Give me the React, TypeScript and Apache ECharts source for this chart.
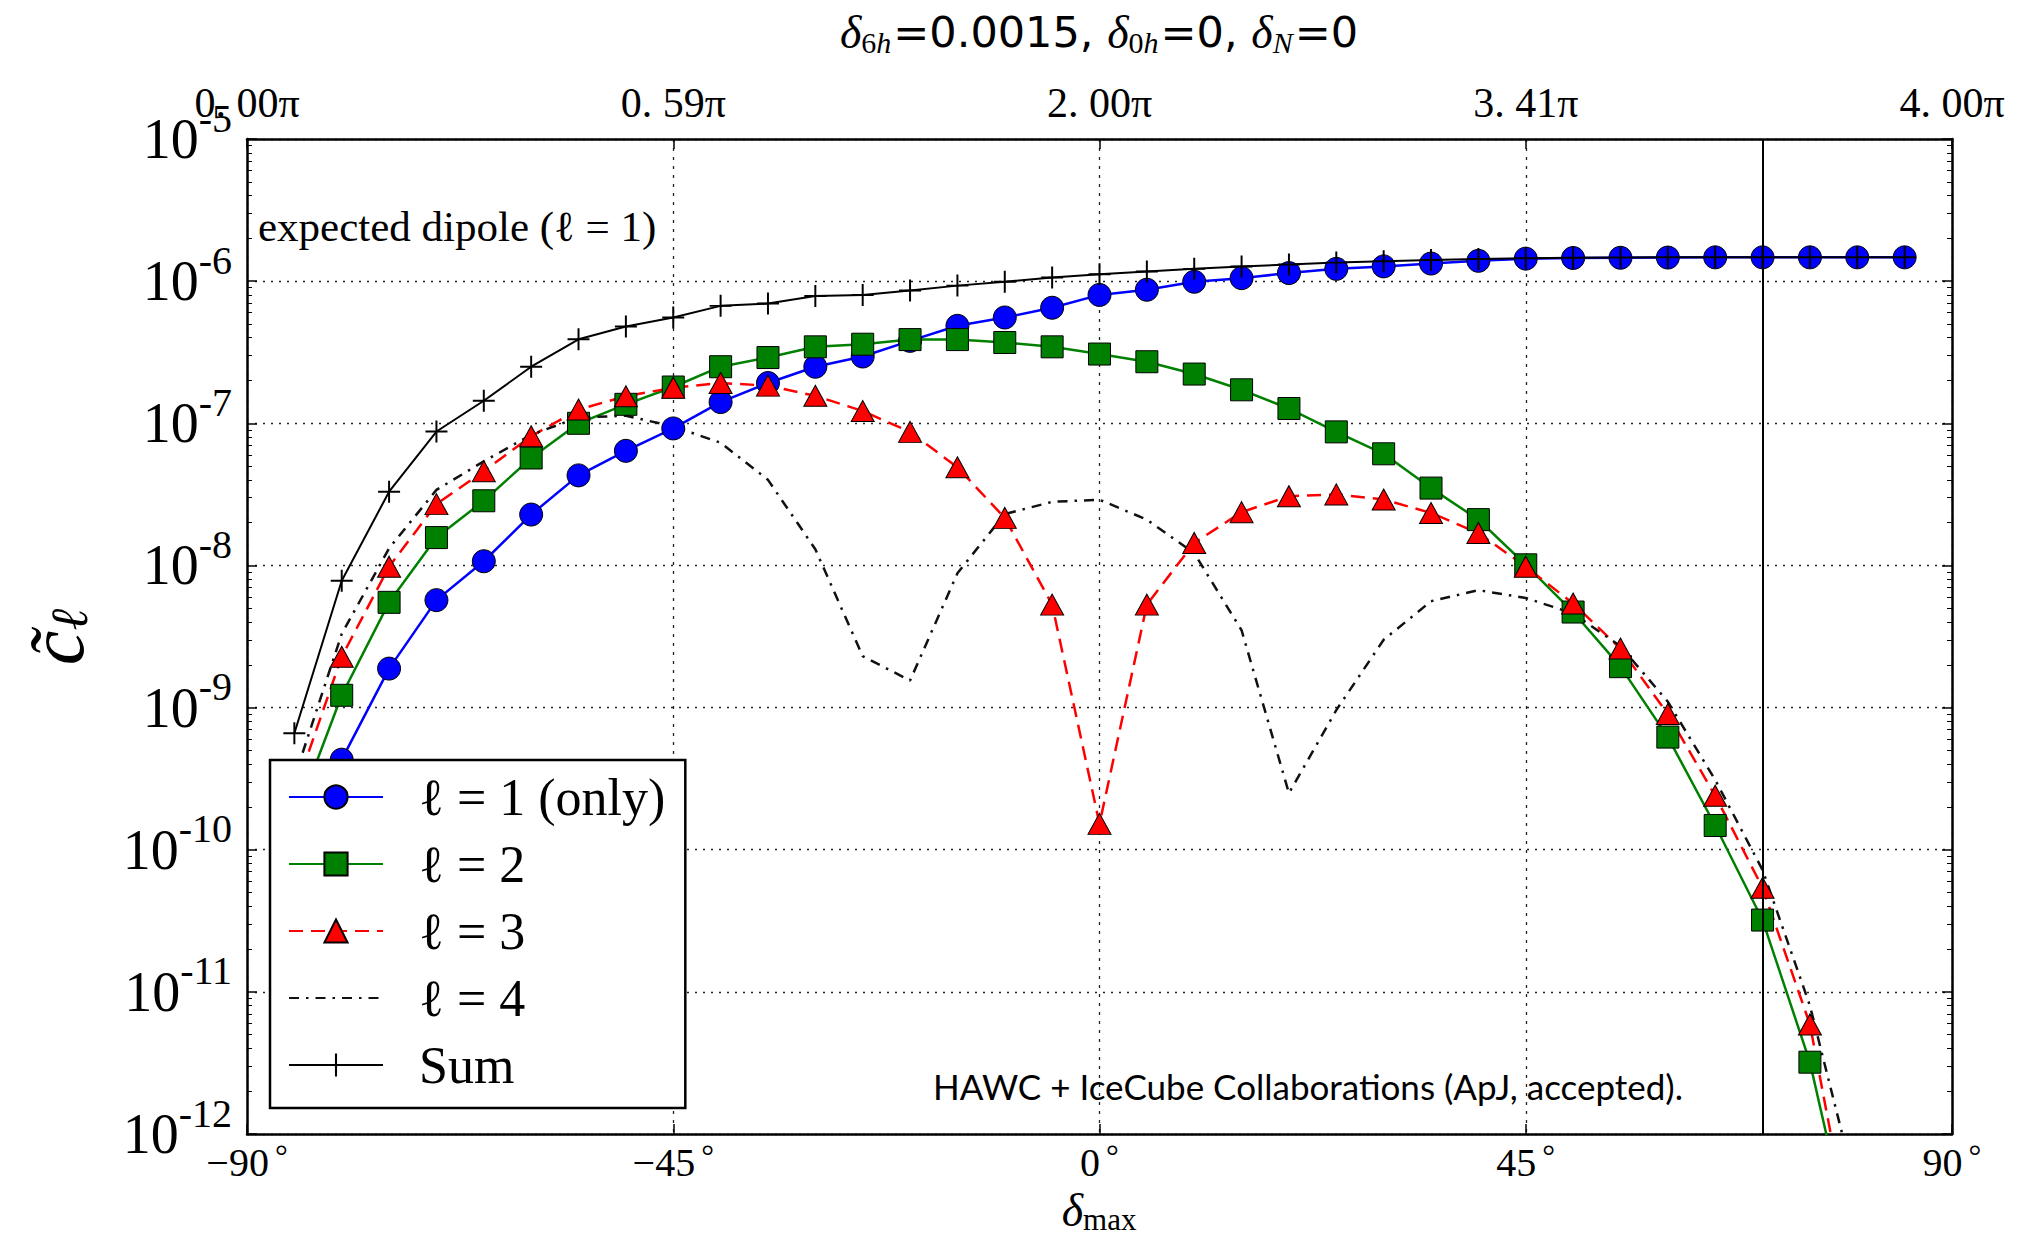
import React, { useEffect, useRef } from 'react';
import * as echarts from 'echarts';

// ---------- data ----------
const deltaDeg = [-85, -80, -75, -70, -65, -60, -55, -50, -45, -40, -35, -30, -25, -20, -15, -10, -5, 0, 5, 10, 15, 20, 25, 30, 35, 40, 45, 50, 55, 60, 65, 70, 75, 80, 85];

const clOnly1 = [4.5e-11, 4.3e-10, 1.88e-9, 5.7e-9, 1.07e-8, 2.28e-8, 4.3e-8, 6.4e-8, 9.2e-8, 1.41e-7, 1.92e-7, 2.5e-7, 2.95e-7, 3.8e-7, 4.85e-7, 5.55e-7, 6.5e-7, 8.0e-7, 8.7e-7, 9.9e-7, 1.05e-6, 1.14e-6, 1.22e-6, 1.27e-6, 1.33e-6, 1.39e-6, 1.44e-6, 1.455e-6, 1.46e-6, 1.465e-6, 1.47e-6, 1.47e-6, 1.47e-6, 1.47e-6, 1.47e-6];

const cl2 = [1.6e-10, 1.22e-9, 5.5e-9, 1.57e-8, 2.85e-8, 5.7e-8, 1.0e-7, 1.36e-7, 1.8e-7, 2.5e-7, 2.9e-7, 3.45e-7, 3.6e-7, 3.88e-7, 3.88e-7, 3.7e-7, 3.45e-7, 3.07e-7, 2.71e-7, 2.22e-7, 1.72e-7, 1.27e-7, 8.7e-8, 6.1e-8, 3.5e-8, 2.1e-8, 1.01e-8, 4.7e-9, 1.94e-9, 6.2e-10, 1.48e-10, 3.2e-11, 3.2e-12, 1.1e-13, 1e-15];

const cl3 = [2.5e-10, 2.28e-9, 9.8e-9, 2.7e-8, 4.6e-8, 8.1e-8, 1.25e-7, 1.55e-7, 1.78e-7, 1.92e-7, 1.84e-7, 1.56e-7, 1.22e-7, 8.7e-8, 4.9e-8, 2.16e-8, 5.3e-9, 1.52e-10, 5.3e-9, 1.44e-8, 2.37e-8, 3.07e-8, 3.16e-8, 2.91e-8, 2.34e-8, 1.69e-8, 9.8e-9, 5.4e-9, 2.6e-9, 9.0e-10, 2.4e-10, 5.4e-11, 5.9e-12, 1.05e-13, 1e-15];

const cl4 = [3.2e-10, 3.3e-9, 1.32e-8, 3.4e-8, 5.4e-8, 8.3e-8, 1.1e-7, 1.13e-7, 9.5e-8, 7.3e-8, 4.0e-8, 1.3e-8, 2.3e-9, 1.55e-9, 8.8e-9, 2.3e-8, 2.8e-8, 2.9e-8, 2.1e-8, 1.22e-8, 3.5e-9, 2.5e-10, 9.6e-10, 3.0e-9, 5.6e-9, 6.7e-9, 5.9e-9, 4.6e-9, 2.7e-9, 1.1e-9, 3.1e-10, 7.2e-11, 8.0e-12, 3.8e-13, 1e-15];

const clSum = [6.6e-10, 7.8e-9, 3.3e-8, 8.75e-8, 1.44e-7, 2.5e-7, 3.9e-7, 4.8e-7, 5.55e-7, 6.7e-7, 6.95e-7, 7.85e-7, 8.0e-7, 8.6e-7, 9.3e-7, 9.9e-7, 1.06e-6, 1.12e-6, 1.17e-6, 1.22e-6, 1.27e-6, 1.31e-6, 1.35e-6, 1.38e-6, 1.41e-6, 1.43e-6, 1.45e-6, 1.46e-6, 1.465e-6, 1.47e-6, 1.47e-6, 1.47e-6, 1.47e-6, 1.47e-6, 1.47e-6];

const seriesNames = ['ℓ = 1 (only)', 'ℓ = 2', 'ℓ = 3', 'ℓ = 4', 'Sum'];
const xTickValues = [-90, -45, 0, 45, 90];
const topTickLabels = ['0. 00π', '0. 59π', '2. 00π', '3. 41π', '4. 00π'];
const expectedDipole = 1.49e-6;
const fovLimitDeg = 70;
const dipoleLabel = 'expected dipole (ℓ = 1)';
const creditText = 'HAWC + IceCube Collaborations (ApJ, accepted).';

const SERIF = '"Liberation Serif", "DejaVu Serif", serif';
const SANS = '"DejaVu Sans", sans-serif';

const pairs = (vals: number[]) => deltaDeg.map((d, i) => [d, vals[i]]);

const PLUS = 'path://M-1,-0.09L1,-0.09L1,0.09L-1,0.09Z M-0.09,-1L0.09,-1L0.09,1L-0.09,1Z';

export default function App() {
  const ref = useRef<HTMLDivElement>(null);

  useEffect(() => {
    document.body.style.margin = '0';
    document.body.style.overflow = 'hidden';
    const chart = echarts.init(ref.current as HTMLDivElement, null, { renderer: 'svg' });

    const frameLine = { show: true, onZero: false, lineStyle: { color: '#000', width: 2.5 } };
    const tick = { show: true, inside: true, length: 10, lineStyle: { color: '#000', width: 1.5 } };
    const minor = { show: true, splitNumber: 9, length: 5, lineStyle: { color: '#000', width: 1 } };

    const option: any = {
      animation: false,
      backgroundColor: '#fff',
      textStyle: { fontFamily: SERIF },
      grid: { left: 247, right: 68, top: 139, bottom: 109, containLabel: false },
      xAxis: [
        {
          type: 'value', position: 'bottom', min: -90, max: 90, interval: 45,
          axisLine: frameLine, axisTick: tick,
          axisLabel: {
            margin: 6, showMinLabel: true, showMaxLabel: true,
            formatter: (v: number) => `{n|${v < 0 ? '−' : ''}${Math.abs(v)}}{d|°}`,
            rich: {
              n: { fontFamily: SERIF, fontSize: 40, color: '#000' },
              d: { fontFamily: SERIF, fontSize: 32, color: '#000', padding: [0, 0, 12, 6] },
            },
          },
          splitLine: { show: true, lineStyle: { color: '#222', width: 1.3, type: [3, 6] } },
        },
        {
          type: 'value', position: 'top', min: -90, max: 90, interval: 45,
          axisLine: frameLine, axisTick: tick,
          axisLabel: {
            margin: 15, showMinLabel: true, showMaxLabel: true,
            fontFamily: SERIF, fontSize: 42, color: '#000',
            formatter: (v: number) => topTickLabels[xTickValues.indexOf(Math.round(v))] ?? '',
          },
          splitLine: { show: false },
        },
      ],
      yAxis: [
        {
          type: 'log', logBase: 10, min: 1e-12, max: 1e-5, splitNumber: 7, position: 'left',
          axisLine: frameLine, axisTick: tick, minorTick: minor,
          axisLabel: {
            margin: 15, showMinLabel: true, showMaxLabel: true,
            formatter: (v: number) => `{b|10}{s|${Math.round(Math.log10(v))}}`,
            rich: {
              b: { fontFamily: SERIF, fontSize: 56, color: '#000' },
              s: { fontFamily: SERIF, fontSize: 40, color: '#000', padding: [0, 0, 42, 0] },
            },
          },
          splitLine: { show: true, lineStyle: { color: '#222', width: 1.3, type: [2, 6] } },
        },
        {
          type: 'log', logBase: 10, min: 1e-12, max: 1e-5, splitNumber: 7, position: 'right',
          axisLine: frameLine, axisTick: tick, minorTick: minor,
          axisLabel: { show: false }, splitLine: { show: false },
        },
      ],
      legend: {
        orient: 'vertical', left: 270, top: 760,
        data: seriesNames,
        itemWidth: 94, itemHeight: 29, itemGap: 15,
        padding: [11, 20, 17, 18],
        borderColor: '#000', borderWidth: 2.5, backgroundColor: '#fff',
        selectedMode: false,
        textStyle: { fontFamily: SERIF, fontSize: 52, color: '#000', lineHeight: 52, padding: [0, 0, 0, 31] },
      },
      series: [
        {
          name: seriesNames[0], type: 'line', data: pairs(clOnly1), xAxisIndex: 0, yAxisIndex: 0,
          symbol: 'circle', symbolSize: 23, showAllSymbol: true,
          lineStyle: { color: '#0000ff', width: 2.5 },
          itemStyle: { color: '#0000ff', borderColor: '#000', borderWidth: 1 },
          markLine: {
            silent: true, symbol: 'none', animation: false,
            lineStyle: { color: '#000', width: 2, type: 'solid' },
            label: { show: false },
            data: [
              { yAxis: expectedDipole },
              { xAxis: fovLimitDeg },
            ],
          },
        },
        {
          name: seriesNames[1], type: 'line', data: pairs(cl2),
          symbol: 'rect', symbolSize: 22, showAllSymbol: true,
          lineStyle: { color: '#008000', width: 2.5 },
          itemStyle: { color: '#008000', borderColor: '#000', borderWidth: 1 },
        },
        {
          name: seriesNames[2], type: 'line', data: pairs(cl3),
          symbol: 'triangle', symbolSize: [23, 21], showAllSymbol: true,
          lineStyle: { color: '#ff0000', width: 2.5, type: [14, 8] },
          itemStyle: { color: '#ff0000', borderColor: '#000', borderWidth: 1 },
        },
        {
          name: seriesNames[3], type: 'line', data: pairs(cl4),
          symbol: 'none', showSymbol: false,
          lineStyle: { color: '#111', width: 2.5, type: [10, 7, 2.5, 7] },
          itemStyle: { color: 'rgba(0,0,0,0)', borderWidth: 0 },
        },
        {
          name: seriesNames[4], type: 'line', data: pairs(clSum),
          symbol: PLUS, symbolSize: 22, showAllSymbol: true,
          lineStyle: { color: '#000', width: 2 },
          itemStyle: { color: '#000', borderWidth: 0 },
        },
      ],
      graphic: [
        {
          type: 'text', x: 1099, y: 32, silent: true,
          style: {
            text: '{d|δ}{s|6}{si|h}{n|=0.0015, }{d|δ}{s|0}{si|h}{n|=0, }{d|δ}{si|N}{n|=0}',
            align: 'center', verticalAlign: 'middle', textAlign: 'center', textVerticalAlign: 'middle',
            fill: '#000',
            rich: {
              d: { fontFamily: SERIF, fontStyle: 'italic', fontSize: 46, fill: '#000' },
              s: { fontFamily: SERIF, fontSize: 30, fill: '#000', padding: [20, 0, 0, 0] },
              si: { fontFamily: SERIF, fontStyle: 'italic', fontSize: 30, fill: '#000', padding: [20, 2, 0, 0] },
              n: { fontFamily: SANS, fontSize: 43, fill: '#000' },
            },
          },
        },
        {
          type: 'text', x: 258, y: 226, silent: true,
          style: {
            text: dipoleLabel,
            font: '43px "Liberation Serif", "DejaVu Serif", serif',
            align: 'left', verticalAlign: 'middle', textAlign: 'left', textVerticalAlign: 'middle',
            fill: '#000',
          },
        },
        {
          type: 'text', x: 1099, y: 1210, silent: true,
          style: {
            text: '{d|δ}{s|max}',
            align: 'center', verticalAlign: 'middle', textAlign: 'center', textVerticalAlign: 'middle',
            fill: '#000',
            rich: {
              d: { fontFamily: SERIF, fontStyle: 'italic', fontSize: 46, fill: '#000' },
              s: { fontFamily: SERIF, fontSize: 31, fill: '#000', padding: [18, 0, 0, 0] },
            },
          },
        },
        {
          type: 'text', x: 56, y: 637, rotation: Math.PI / 2, silent: true,
          style: {
            text: '{c|c\u0303}{s|ℓ}',
            align: 'center', verticalAlign: 'middle', textAlign: 'center', textVerticalAlign: 'middle',
            fill: '#000',
            rich: {
              c: { fontFamily: SERIF, fontStyle: 'italic', fontSize: 78, fill: '#000' },
              s: { fontFamily: SERIF, fontStyle: 'italic', fontSize: 52, fill: '#000', padding: [26, 0, 0, 0] },
            },
          },
        },
        {
          type: 'text', x: 1308, y: 1086, silent: true,
          style: {
            text: creditText,
            font: '35px Lato, "Open Sans", sans-serif',
            align: 'center', verticalAlign: 'middle', textAlign: 'center', textVerticalAlign: 'middle',
            fill: '#000',
          },
        },
      ],
    };

    chart.setOption(option);
    return () => chart.dispose();
  }, []);

  return <div ref={ref} style={{ width: 2020, height: 1243, background: '#fff' }} />;
}
